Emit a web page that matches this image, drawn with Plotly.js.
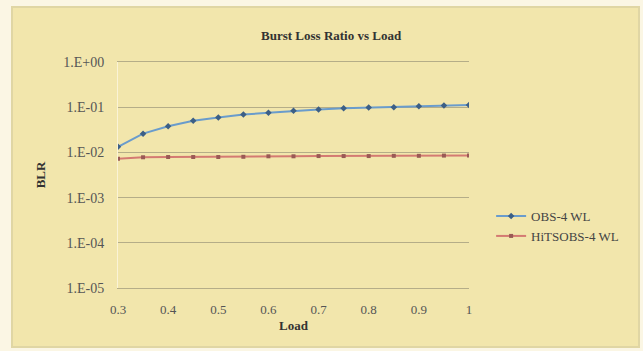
<!DOCTYPE html>
<html>
<head>
<meta charset="utf-8">
<script src="https://cdn.plot.ly/plotly-3.0.1.min.js"></script>
<style>
html,body{margin:0;padding:0;background:#fbf6e4;width:643px;height:351px;overflow:hidden;}
#wrap{position:absolute;left:11px;top:6px;width:625px;height:338px;border:2px solid #e0d6a4;background:#f2e6ac;}
#chart{width:625px;height:338px;}
</style>
</head>
<body>
<div id="wrap"><div id="chart"></div></div>
<script>
const load = [0.3,0.35,0.4,0.45,0.5,0.55,0.6,0.65,0.7,0.75,0.8,0.85,0.9,0.95,1.0];
const obs4wl = [0.0133,0.026,0.038,0.050,0.059,0.069,0.075,0.083,0.089,0.095,0.098,0.100,0.105,0.109,0.112];
const hitsobs4wl = [0.0072,0.0078,0.0079,0.0079,0.0079,0.0080,0.0082,0.0082,0.0083,0.0083,0.0083,0.0084,0.0084,0.0085,0.0085];
const yTickVals = [1e-5,1e-4,1e-3,1e-2,1e-1,1];
const yTickText = ["1.E-05","1.E-04","1.E-03","1.E-02","1.E-01","1.E+00"];
const xTickVals = [0.3,0.4,0.5,0.6,0.7,0.8,0.9,1];
const xTickText = ["0.3","0.4","0.5","0.6","0.7","0.8","0.9","1"];

const serif = "Liberation Serif, Times New Roman, serif";
const traces = [
  {x: load, y: obs4wl, name: "OBS-4 WL", mode: "lines+markers", type: "scatter",
   line: {color: "#6a9ccc", width: 2}, marker: {symbol: "diamond", size: 5, color: "#3c5f86"}},
  {x: load, y: hitsobs4wl, name: "HiTSOBS-4 WL", mode: "lines+markers", type: "scatter",
   line: {color: "#d47a72", width: 2}, marker: {symbol: "square", size: 4, color: "#9a5a55"}}
];
const layout = {
  width: 625, height: 338,
  paper_bgcolor: "#f2e6ac", plot_bgcolor: "#f2e6ac",
  margin: {l: 105, r: 169, t: 54, b: 58},
  title: {text: "<b>Burst Loss Ratio vs Load</b>", x: 0.509, xref: "container", y: 0.92, yanchor: "middle",
          font: {family: serif, size: 13, color: "#333"}},
  xaxis: {range: [0.3, 1], tickvals: xTickVals, ticktext: xTickText, showgrid: false, zeroline: false,
          showline: true, mirror: true, linecolor: "#b5ad88", linewidth: 1,
          ticks: "", tickfont: {family: serif, size: 13, color: "#555"}, ticklabelstandoff: 9,
          title: {text: "<b>Load</b>", font: {family: serif, size: 13, color: "#333"}, standoff: 5}},
  yaxis: {type: "log", range: [-5, 0], tickvals: yTickVals, ticktext: yTickText, showgrid: true,
          gridcolor: "#b5ad88", gridwidth: 1, zeroline: false, showline: true, linecolor: "#faf3d6",
          ticks: "", tickfont: {family: serif, size: 14, color: "#555"}, ticklabelstandoff: 10,
          title: {text: "<b>BLR</b>", font: {family: serif, size: 13, color: "#333"}, standoff: 14}},
  legend: {x: 1.063, xanchor: "left", y: 0.274, yanchor: "middle", bgcolor: "rgba(0,0,0,0)",
           font: {family: serif, size: 13, color: "#444"}, tracegroupgap: 8, itemwidth: 30},
  showlegend: true
};
Plotly.newPlot("chart", traces, layout, {displayModeBar: false, staticPlot: true});
</script>
</body>
</html>
